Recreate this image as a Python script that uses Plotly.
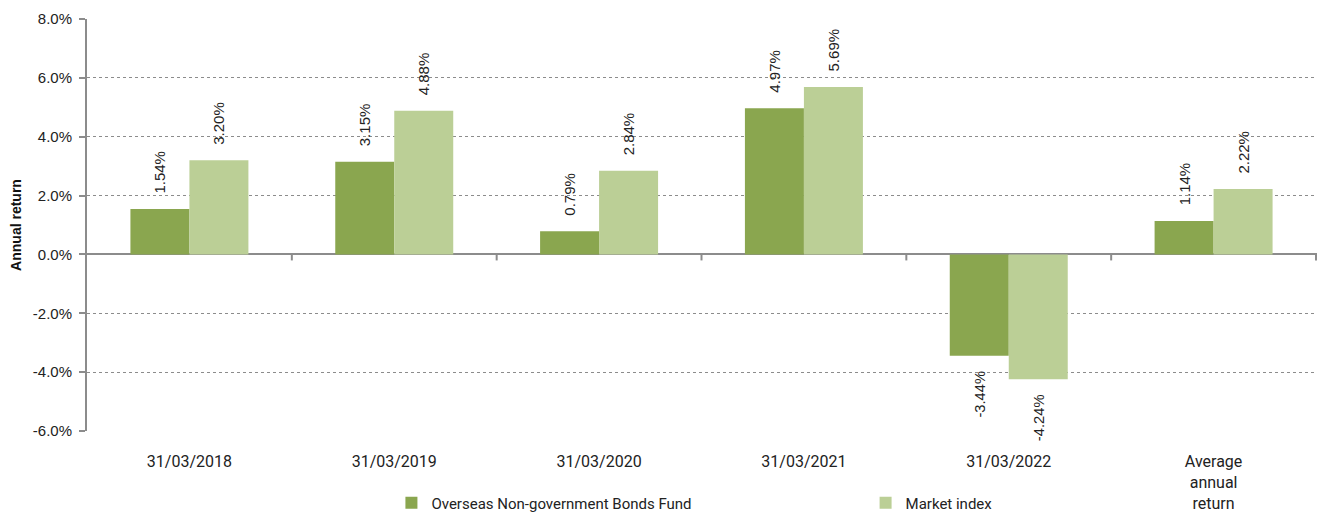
import plotly.graph_objects as go

categories = ["31/03/2018", "31/03/2019", "31/03/2020", "31/03/2021", "31/03/2022", "Average<br>annual<br>return"]
fund_values = [1.54, 3.15, 0.79, 4.97, -3.44, 1.14]
index_values = [3.20, 4.88, 2.84, 5.69, -4.24, 2.22]
series_names = ["Overseas Non-government Bonds Fund", "Market index"]
colors = ["#8AA64F", "#BBCF96"]
y_ticks = [-6, -4, -2, 0, 2, 4, 6, 8]

NB = "\u00a0"

def label(v):
    s = f"{v:.2f}%"
    return NB * 3 + s if v >= 0 else s + NB * 3

fig = go.Figure()
legends = ["legend", "legend2"]
for name, vals, col, lg in zip(series_names, [fund_values, index_values], colors, legends):
    fig.add_trace(go.Bar(
        x=categories, y=[v / 100 for v in vals], name=name,
        marker=dict(color=col, line=dict(width=0)),
        text=[label(v) for v in vals], texttemplate="%{text}",
        textposition="outside", textangle=-90,
        textfont=dict(family="Liberation Sans, Arial", size=15, color="#222"),
        cliponaxis=False, legend=lg,
    ))

shapes = []
for i in range(len(categories)):
    shapes.append(dict(type="line", xref="x", yref="y", x0=i + 0.5, x1=i + 0.5,
                       ysizemode="pixel", yanchor=0, y0=0, y1=-6,
                       line=dict(color="#8c8c8c", width=2)))

legend_font = dict(family="Roboto", size=15, color="#222")
fig.update_layout(
    width=1318, height=516,
    margin=dict(l=87, r=1, t=19, b=85, autoexpand=False),
    paper_bgcolor="white", plot_bgcolor="white",
    barmode="group", bargap=0.424, bargroupgap=0,
    shapes=shapes,
    showlegend=True,
    legend=dict(orientation="h", x=0.2475, xanchor="left", y=-0.175, yanchor="middle",
                font=legend_font, bgcolor="rgba(0,0,0,0)"),
    legend2=dict(orientation="h", x=0.633, xanchor="left", y=-0.175, yanchor="middle",
                 font=legend_font, bgcolor="rgba(0,0,0,0)"),
    font=dict(family="Liberation Sans, Arial", color="#222"),
)
fig.update_xaxes(
    showline=False, showgrid=False, zeroline=False, ticks="",
    tickfont=dict(family="Roboto", size=16, color="#222"),
    ticklabelstandoff=19, automargin=False,
)
fig.update_yaxes(
    range=[-0.06, 0.08], tickvals=[t / 100 for t in y_ticks],
    ticktext=[f"{t:.1f}%" for t in y_ticks],
    showline=True, linecolor="#8c8c8c", linewidth=2,
    ticks="outside", ticklen=6, tickcolor="#8c8c8c", tickwidth=2,
    showgrid=True, gridcolor="#8c8c8c", griddash="dot", gridwidth=1,
    zeroline=True, zerolinecolor="#8c8c8c", zerolinewidth=2,
    tickfont=dict(family="Liberation Sans, Arial", size=15, color="#222"),
    ticklabelstandoff=4, automargin=False,
    title=dict(text="<b>Annual return</b>", font=dict(family="Liberation Sans, Arial", size=14, color="#111"), standoff=8),
)
fig.write_html("out.html", config={"displayModeBar": False},
               post_script="document.body.style.margin='0';")
